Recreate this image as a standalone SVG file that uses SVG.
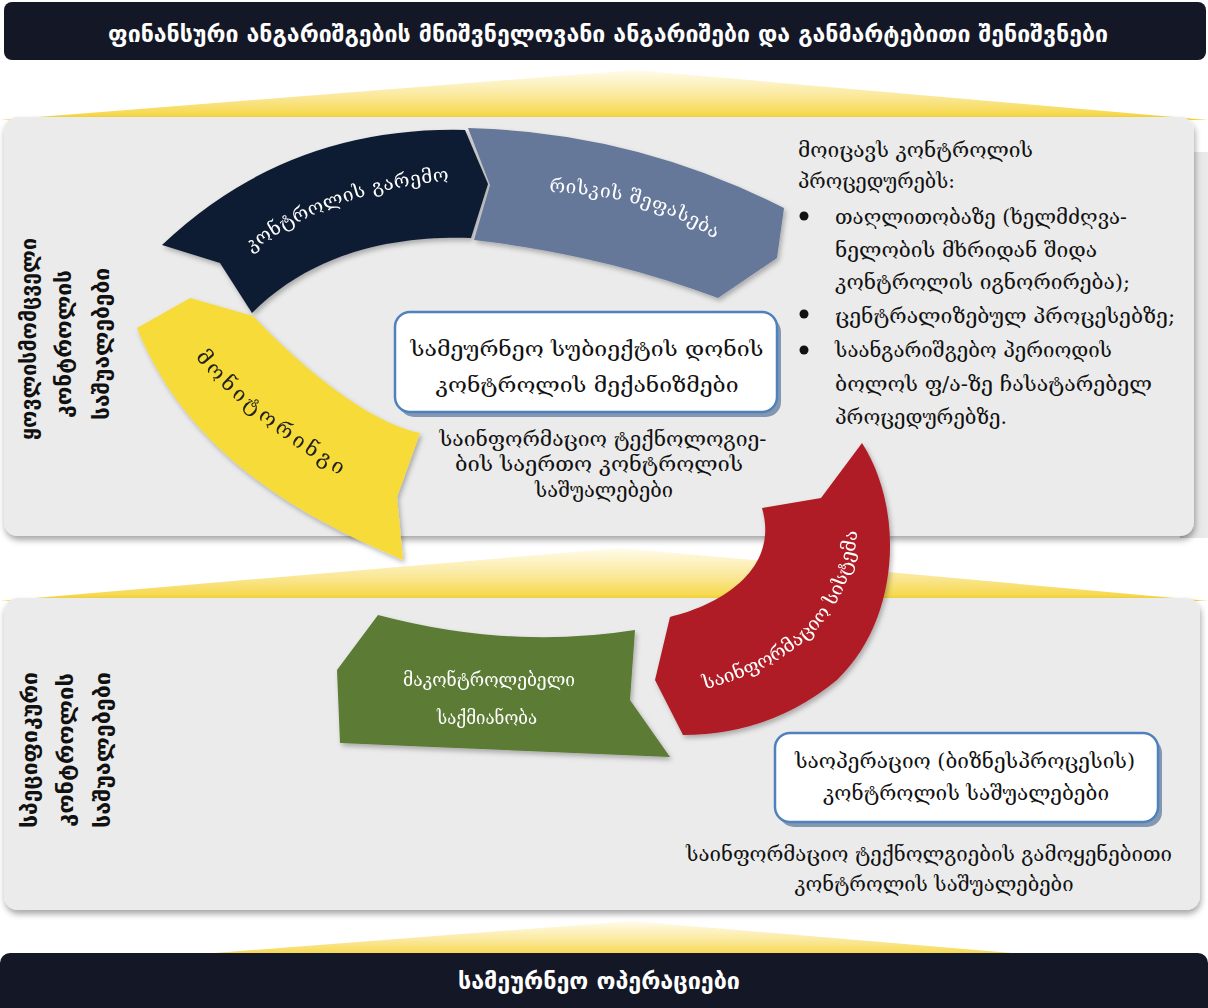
<svg xmlns="http://www.w3.org/2000/svg" width="1208" height="1008" viewBox="0 0 1208 1008">
  <defs>
    <style>
      .ka { font-family: "DejaVu Serif", "DejaVu Sans", sans-serif; }
      .kb { font-family: "DejaVu Sans", sans-serif; font-weight: bold; }
      .bar { fill: #141726; }
      .panel { fill: #ebebeb; }
      .band { fill: url(#bandGrad); }
      .body { font-size: 20px; fill: #111; }
      .side { font-size: 21px; fill: #111; }
      .box { fill: #ffffff; stroke: #4f81bd; stroke-width: 2.5; }
      .boxShadow { fill: #8497b0; }
      .onDark { fill: #ffffff; font-size: 19px; }
    </style>
    <linearGradient id="bandGrad" x1="0" y1="0" x2="0" y2="1">
      <stop offset="0" stop-color="#fffcec"/>
      <stop offset="0.55" stop-color="#fae796"/>
      <stop offset="1" stop-color="#f5d437"/>
    </linearGradient>
    <linearGradient id="edgeGrad" x1="0" y1="0" x2="1" y2="0">
      <stop offset="0" stop-color="#c9c9c9"/>
      <stop offset="0.35" stop-color="#e2e2e2"/>
      <stop offset="1" stop-color="#ebebeb"/>
    </linearGradient>
    <filter id="panelShadow" x="-3%" y="-5%" width="106%" height="115%">
      <feDropShadow dx="1" dy="4" stdDeviation="3" flood-color="#000" flood-opacity="0.35"/>
    </filter>
    <filter id="arcShadow" x="-10%" y="-10%" width="125%" height="125%">
      <feDropShadow dx="2" dy="3" stdDeviation="2.5" flood-color="#000" flood-opacity="0.28"/>
    </filter>
    <!-- baselines for the labels written along the ring segments -->
    <path id="pNavy" d="M 246 256 Q 330 190 456 180"/>
    <path id="pBlue" d="M 548 192 Q 650 195 716 240"/>
    <path id="pYellow" d="M 194 356 Q 241 415 344 478"/>
    <path id="pRed" d="M 694 692 Q 855 655 858 520"/>
  </defs>

  <rect width="1208" height="1008" fill="#ffffff"/>

  <!-- header bar -->
  <g id="header">
    <rect class="bar" x="4" y="2" width="1202" height="58" rx="8"/>
    <text class="kb" x="608" y="42" text-anchor="middle" font-size="23" fill="#ffffff" textLength="1000" lengthAdjust="spacingAndGlyphs">ფინანსური ანგარიშგების მნიშვნელოვანი ანგარიშები და განმარტებითი შენიშვნები</text>
  </g>

  <!-- yellow light bands between the layers -->
  <g id="bands">
    <polygon class="band" points="634,70 0,120 1208,120"/>
    <polygon class="band" points="620,548 0,601 1208,601"/>
    <polygon class="band" points="632,921 150,958 1070,958"/>
  </g>

  <!-- upper layer panel -->
  <g id="panel-top">
    <rect x="1180" y="152" width="28" height="386" fill="url(#edgeGrad)"/>
    <rect class="panel" x="4" y="117" width="1190" height="419" rx="14" filter="url(#panelShadow)"/>
  </g>

  <!-- lower layer panel -->
  <g id="panel-bottom">
    <rect class="panel" x="4" y="598" width="1196" height="312" rx="14" filter="url(#panelShadow)"/>
  </g>

  <!-- bottom bar -->
  <g id="footer">
    <rect class="bar" x="0" y="953" width="1208" height="70" rx="10"/>
    <text class="kb" x="599" y="989" text-anchor="middle" font-size="23" fill="#ffffff" textLength="282" lengthAdjust="spacingAndGlyphs">სამეურნეო ოპერაციები</text>
  </g>

  <!-- vertical layer captions -->
  <g id="label-general">
    <text class="kb side" transform="translate(36,339) rotate(-90)" text-anchor="middle" textLength="202" lengthAdjust="spacingAndGlyphs">ყოვლისმომცველი</text>
    <text class="kb side" transform="translate(71,344) rotate(-90)" text-anchor="middle" textLength="148" lengthAdjust="spacingAndGlyphs">კონტროლის</text>
    <text class="kb side" transform="translate(109,344) rotate(-90)" text-anchor="middle" textLength="152" lengthAdjust="spacingAndGlyphs">საშუალებები</text>
  </g>
  <g id="label-specific">
    <text class="kb side" transform="translate(37,750) rotate(-90)" text-anchor="middle" textLength="156" lengthAdjust="spacingAndGlyphs">სპეციფიკური</text>
    <text class="kb side" transform="translate(73,750) rotate(-90)" text-anchor="middle" textLength="154" lengthAdjust="spacingAndGlyphs">კონტროლის</text>
    <text class="kb side" transform="translate(110,750) rotate(-90)" text-anchor="middle" textLength="156" lengthAdjust="spacingAndGlyphs">საშუალებები</text>
  </g>

  <!-- ring segments -->
  <g id="seg-environment" filter="url(#arcShadow)">
    <path d="M 162 245 Q 287 126 465 130 L 488 184 L 471 238 C 410 236 320 245 252 313 L 220 263 Z" fill="#0e1b31"/>
    <text class="ka onDark" font-size="20" letter-spacing="0.5"><textPath href="#pNavy" startOffset="50%" text-anchor="middle">კონტროლის გარემო</textPath></text>
  </g>
  <g id="seg-risk" filter="url(#arcShadow)">
    <path d="M 468 128 Q 634 132 784 208 L 777 258 L 718 298 Q 604 255 474 240 L 490 185 Z" fill="#66789a"/>
    <text class="ka onDark" font-size="20" letter-spacing="0.5"><textPath href="#pBlue" startOffset="50%" text-anchor="middle">რისკის შეფასება</textPath></text>
  </g>
  <g id="seg-monitoring" filter="url(#arcShadow)">
    <path d="M 137 328 L 190 298 L 253 316 C 290 355 360 420 420 433 L 397 497 L 403 560 C 310 520 190 460 137 328 Z" fill="#f7db38"/>
    <text class="ka" font-size="21" fill="#222" letter-spacing="3.5"><textPath href="#pYellow" startOffset="50%" text-anchor="middle">მონიტორინგი</textPath></text>
  </g>
  <g id="seg-information" filter="url(#arcShadow)">
    <path d="M 862 443 C 905 510 900 620 837 680 Q 770 735 683 735 L 655 680 L 670 617 C 720 605 780 570 762 508 L 821 498 Z" fill="#b01d25"/>
    <text class="ka onDark"><textPath href="#pRed" startOffset="50%" text-anchor="middle">საინფორმაციო სისტემა</textPath></text>
  </g>
  <g id="seg-activities" filter="url(#arcShadow)">
    <path d="M 378 615 Q 510 650 635 630 L 630 700 L 670 757 Q 500 750 340 743 L 337 670 Z" fill="#5b7b35"/>
    <text class="ka onDark" x="489" y="686" text-anchor="middle" textLength="172" lengthAdjust="spacingAndGlyphs">მაკონტროლებელი</text>
    <text class="ka onDark" x="487" y="724" text-anchor="middle" textLength="100" lengthAdjust="spacingAndGlyphs">საქმიანობა</text>
  </g>

  <!-- entity level box -->
  <g id="entity-level">
    <rect class="boxShadow" x="399" y="317" width="382" height="100" rx="15"/>
    <rect class="box" x="395" y="312" width="382" height="100" rx="15"/>
    <text class="ka body" font-size="21" x="587" y="356" text-anchor="middle" textLength="353" lengthAdjust="spacingAndGlyphs">სამეურნეო სუბიექტის დონის</text>
    <text class="ka body" font-size="21" x="587" y="392" text-anchor="middle" textLength="303" lengthAdjust="spacingAndGlyphs">კონტროლის მექანიზმები</text>
  </g>

  <g id="it-general">
    <text class="ka body" x="603" y="446" text-anchor="middle" textLength="327" lengthAdjust="spacingAndGlyphs">საინფორმაციო ტექნოლოგიე-</text>
    <text class="ka body" x="599" y="471" text-anchor="middle" textLength="288" lengthAdjust="spacingAndGlyphs">ბის საერთო კონტროლის</text>
    <text class="ka body" x="604" y="497" text-anchor="middle" textLength="138" lengthAdjust="spacingAndGlyphs">საშუალებები</text>
  </g>

  <!-- procedures list -->
  <g id="procedures">
    <text class="ka body" x="798" y="157" textLength="235" lengthAdjust="spacingAndGlyphs">მოიცავს კონტროლის</text>
    <text class="ka body" x="798" y="188" textLength="157" lengthAdjust="spacingAndGlyphs">პროცედურებს:</text>
    <circle cx="804" cy="216" r="4.5" fill="#111"/>
    <text class="ka body" x="835" y="224" textLength="292" lengthAdjust="spacingAndGlyphs">თაღლითობაზე (ხელმძღვა-</text>
    <text class="ka body" x="835" y="257" textLength="262" lengthAdjust="spacingAndGlyphs">ნელობის მხრიდან შიდა</text>
    <text class="ka body" x="835" y="289" textLength="295" lengthAdjust="spacingAndGlyphs">კონტროლის იგნორირება);</text>
    <circle cx="804" cy="314" r="4.5" fill="#111"/>
    <text class="ka body" x="835" y="323" textLength="340" lengthAdjust="spacingAndGlyphs">ცენტრალიზებულ პროცესებზე;</text>
    <circle cx="804" cy="350" r="4.5" fill="#111"/>
    <text class="ka body" x="835" y="357" textLength="277" lengthAdjust="spacingAndGlyphs">საანგარიშგებო პერიოდის</text>
    <text class="ka body" x="835" y="391" textLength="317" lengthAdjust="spacingAndGlyphs">ბოლოს ფ/ა-ზე ჩასატარებელ</text>
    <text class="ka body" x="835" y="424" textLength="172" lengthAdjust="spacingAndGlyphs">პროცედურებზე.</text>
  </g>

  <!-- business process level box -->
  <g id="process-level">
    <rect class="boxShadow" x="779" y="738" width="383" height="89" rx="15"/>
    <rect class="box" x="775" y="733" width="383" height="89" rx="15"/>
    <text class="ka body" x="965" y="768" text-anchor="middle" textLength="340" lengthAdjust="spacingAndGlyphs">საოპერაციო (ბიზნესპროცესის)</text>
    <text class="ka body" x="966" y="800" text-anchor="middle" textLength="286" lengthAdjust="spacingAndGlyphs">კონტროლის საშუალებები</text>
  </g>

  <g id="it-application">
    <text class="ka body" x="929" y="861" text-anchor="middle" textLength="486" lengthAdjust="spacingAndGlyphs">საინფორმაციო ტექნოლგიების გამოყენებითი</text>
    <text class="ka body" x="934" y="891" text-anchor="middle" textLength="279" lengthAdjust="spacingAndGlyphs">კონტროლის საშუალებები</text>
  </g>

  <g id="connectors"/>
</svg>
